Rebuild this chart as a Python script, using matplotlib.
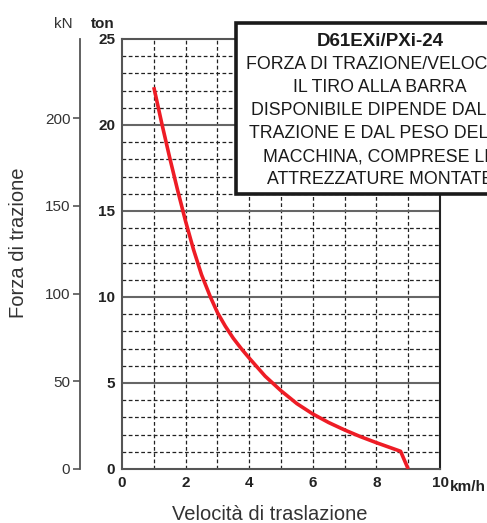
import matplotlib
matplotlib.use('Agg')
import matplotlib.pyplot as plt
from matplotlib.patches import Rectangle

plt.rcParams['font.family'] = ['Liberation Sans', 'DejaVu Sans']

# curve: speed (km/h) vs drawbar pull (ton)
speed = [1.0, 1.25, 1.5, 1.75, 2.0, 2.25, 2.5, 2.78, 3.0, 3.25, 3.5, 3.75,
         4.0, 4.5, 5.0, 5.5, 6.0, 6.5, 7.0, 7.5, 8.0, 8.76, 9.0]
force_ton = [22.2, 20.1, 18.1, 16.2, 14.4, 12.75, 11.3, 10.0, 9.1, 8.3, 7.6, 7.0,
             6.45, 5.4, 4.55, 3.8, 3.2, 2.7, 2.27, 1.88, 1.53, 1.03, 0.0]

x_ticks = [0, 2, 4, 6, 8, 10]
ton_ticks = [0, 5, 10, 15, 20, 25]
kn_ticks = [0, 50, 100, 150, 200]

box_title = 'D61EXi/PXi-24'
box_lines = ['FORZA DI TRAZIONE/VELOCITÀ', 'IL TIRO ALLA BARRA',
             'DISPONIBILE DIPENDE DALLA', 'TRAZIONE E DAL PESO DELLA',
             'MACCHINA, COMPRESE LE', 'ATTREZZATURE MONTATE']

G = 9.80665
W, H = 487, 523
fig = plt.figure(figsize=(W / 100, H / 100), dpi=100)
ax = fig.add_axes([122 / W, 1 - 469 / H, (440 - 122) / W, (469 - 39) / H])

ax.set_xlim(0, 10)
ax.set_ylim(0, 25)

# grid: dashed every 1 unit, solid grey every 5 ton
for xv in range(1, 10):
    ax.axvline(xv, color='#222222', lw=0.9, ls=(0, (3, 2)), zorder=1)
for yv in range(1, 25):
    if yv % 5 == 0:
        ax.axhline(yv, color='#666666', lw=1.5, zorder=1)
    else:
        ax.axhline(yv, color='#222222', lw=0.9, ls=(0, (3, 2)), zorder=1)

ax.plot(speed, force_ton, color='#ee1c25', lw=2.6, zorder=3, solid_capstyle='butt',
        solid_joinstyle='round')

for s in ['left', 'bottom', 'top']:
    ax.spines[s].set_color('#555555')
    ax.spines[s].set_linewidth(1.5)
ax.spines['right'].set_color('#222222')
ax.spines['right'].set_linewidth(1.5)

ax.set_xticks(x_ticks)
ax.set_xticklabels(['0', '2', '4', '6', '8', '10'], fontweight='bold', fontsize=11)
ax.set_yticks(ton_ticks)
ax.set_yticklabels([str(t) for t in ton_ticks], fontweight='bold', fontsize=11)
ax.tick_params(length=0, pad=5, colors='#222222')
ax.text(10.3, -0.62, 'km/h', fontweight='bold', fontsize=11, ha='left', va='top',
        color='#222222', clip_on=False)

# kN axis
sec = ax.secondary_yaxis(-42 / 318, functions=(lambda t: t * G, lambda k: k / G))
sec.set_yticks(kn_ticks)
sec.set_yticklabels([str(k) for k in kn_ticks], fontsize=11, color='#333333')
sec.spines['left'].set_color('#555555')
sec.spines['left'].set_linewidth(1.3)
sec.tick_params(length=5, width=1.2, color='#555555', pad=2)

fig.text(63 / W, 1 - 24 / H, 'kN', fontsize=11, ha='center', va='center', color='#333333')
fig.text(103 / W, 1 - 24 / H, 'ton', fontsize=11, fontweight='bold', ha='center',
         va='center', color='#222222')

fig.text(19 / W, 1 - 243 / H, 'Forza di trazione', rotation=90, fontsize=14.5,
         ha='center', va='center', color='#333333')
fig.text(270 / W, 1 - 514 / H, 'Velocità di traslazione', fontsize=14.5,
         ha='center', va='center', color='#333333')

# note box, partly cut by the right edge
box = Rectangle((236 / W, 1 - 194 / H), 290 / W, 171 / H, transform=fig.transFigure,
                facecolor='white', edgecolor='#1a1a1a', lw=2.6, zorder=5)
fig.add_artist(box)
cx = 380 / W
fig.text(cx, 1 - 42 / H, box_title, fontsize=13.5, fontweight='bold', ha='center',
         va='center', color='#1a1a1a', zorder=6)
for i, line in enumerate(box_lines):
    fig.text(cx, 1 - (64.5 + i * 23) / H, line, fontsize=12.8, ha='center',
             va='center', color='#1a1a1a', zorder=6)

fig.savefig('out.png', dpi=100)
